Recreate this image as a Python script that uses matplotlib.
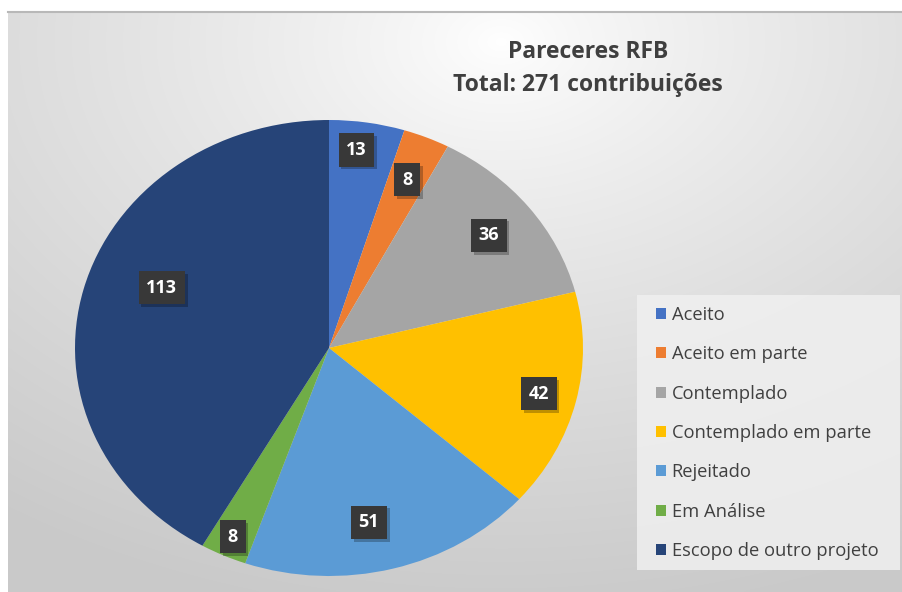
import numpy as np
import matplotlib
matplotlib.use("Agg")
import matplotlib.pyplot as plt
from matplotlib.patches import Rectangle
import matplotlib.patheffects as pe

categories = ["Aceito", "Aceito em parte", "Contemplado", "Contemplado em parte",
              "Rejeitado", "Em Análise", "Escopo de outro projeto"]
values = [13, 8, 36, 42, 51, 8, 113]
colors = ["#4472C4", "#ED7D31", "#A5A5A5", "#FFC000", "#5B9BD5", "#70AD47", "#264478"]
title_lines = ["Pareceres RFB", "Total: 271 contribuições"]

# label placement style (radius fraction, angle tweak in degrees)
label_r = [0.875, 0.80, 0.80, 0.85, 0.78, 0.91, 0.71]
label_dang = [1.5, 0, 0, 0, -3, 0, -7]

W, H = 903, 592
fig = plt.figure(figsize=(W / 100, H / 100), dpi=100)
fig.patch.set_facecolor("white")

# background gradient chart area
bg = fig.add_axes([8 / W, 0, 1 - 8 / W, 1 - 12 / H])
bg.set_axis_off()
ny, nx = 300, 450
yy, xx = np.mgrid[0:ny, 0:nx]
cx, cy = nx * 0.55, ny * 0.05
d = np.sqrt(((xx - cx) / nx) ** 2 * 1.0 + ((yy - cy) / ny) ** 2 * 0.9)
d = np.clip(d / 0.95, 0, 1)
g = 1.0 - 0.21 * d ** 0.8
img = np.dstack([g, g, g])
bg.imshow(img, aspect="auto", extent=[0, 1, 0, 1], interpolation="bicubic")
bg.set_xlim(0, 1)
bg.set_ylim(0, 1)
bg.plot([0, 1], [1, 1], color="#b8b8b8", lw=1.5, transform=bg.transAxes, clip_on=False)

# legend background box
fig.patches.append(Rectangle((637 / W, 1 - 570 / H), (900 - 637) / W, (570 - 295) / H,
                             transform=fig.transFigure, fc="#f0f0f0", ec="none",
                             alpha=0.85, zorder=1))

# pie axes (elliptical)
pl, pr, pt, pb = 75, 583, 120, 576
ax = fig.add_axes([pl / W, 1 - pb / H, (pr - pl) / W, (pb - pt) / H])
wedges, _ = ax.pie(values, colors=colors, startangle=90, counterclock=False,
                   wedgeprops=dict(linewidth=0))
ax.set_aspect("auto")
ax.set_xlim(-1, 1)
ax.set_ylim(-1, 1)

for w, v, r, da in zip(wedges, values, label_r, label_dang):
    ang = np.deg2rad((w.theta1 + w.theta2) / 2 + da)
    x, y = r * np.cos(ang), r * np.sin(ang)
    t = ax.text(x, y, str(v), ha="center", va="center", color="white",
                fontsize=13, fontweight="bold", family="Open Sans",
                bbox=dict(boxstyle="square,pad=0.42", fc="#383838", ec="none"))
    t.get_bbox_patch().set_path_effects(
        [pe.SimplePatchShadow(offset=(2, -2), shadow_rgbFace="black", alpha=0.25),
         pe.Normal()])

# title
fig.text(588 / W, 1 - 58 / H, title_lines[0], ha="center", va="baseline",
         fontsize=16.5, fontweight="bold", family="Open Sans", color="#3f3f3f")
fig.text(588 / W, 1 - 91 / H, title_lines[1], ha="center", va="baseline",
         fontsize=16.5, fontweight="bold", family="Open Sans", color="#3f3f3f")

# legend
handles = [Rectangle((0, 0), 1, 1, fc=c, ec="none") for c in colors]
leg = fig.legend(handles, categories, loc="center left",
                 bbox_to_anchor=(656 / W, 1 - 433 / H),
                 frameon=False, handlelength=0.55, handleheight=0.55,
                 handletextpad=0.3, labelspacing=1.17, borderpad=0.0,
                 borderaxespad=0.0,
                 prop=dict(family="Open Sans", size=13.2))
for t in leg.get_texts():
    t.set_color("#404040")

fig.savefig("out.png", dpi=100)
